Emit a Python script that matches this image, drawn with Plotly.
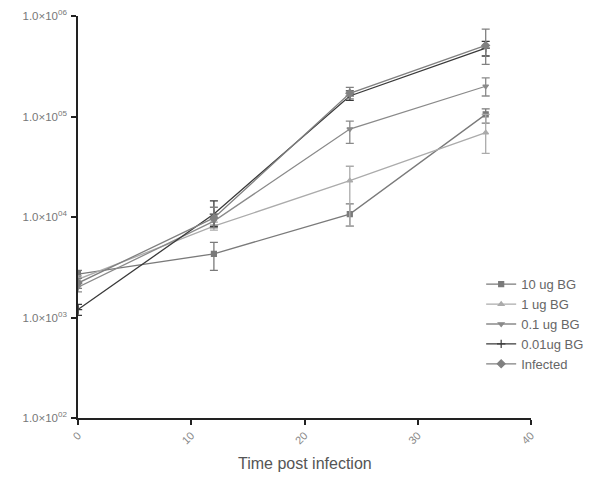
import plotly.graph_objects as go

time = [0, 12, 24, 36]
names = ["10 ug BG", "1 ug BG", "0.1 ug BG", "0.01ug BG", "Infected"]

val_10 = [2700, 4300, 10700, 105000]
hi_10 = [2950, 5600, 13500, 119000]
lo_10 = [2450, 2950, 8100, 86000]

val_1 = [2400, 8100, 23000, 69000]
hi_1 = [2600, 8900, 32000, 105000]
lo_1 = [2200, 7400, 8100, 43000]

val_01 = [2000, 9100, 75000, 200000]
hi_01 = [2200, 10000, 90000, 242000]
lo_01 = [1800, 8300, 54000, 160000]

val_001 = [1200, 10700, 160000, 480000]
hi_001 = [1350, 14500, 180000, 560000]
lo_001 = [1050, 8000, 145000, 400000]

val_inf = [2200, 9800, 170000, 510000]
hi_inf = [2450, 12500, 195000, 740000]
lo_inf = [1950, 7800, 150000, 330000]

series = [val_10, val_1, val_01, val_001, val_inf]
his = [hi_10, hi_1, hi_01, hi_001, hi_inf]
los = [lo_10, lo_1, lo_01, lo_001, lo_inf]
colors = ["#7a7a7a", "#ababab", "#8a8a8a", "#3a3a3a", "#808080"]
symbols = ["square", "triangle-up", "triangle-down", "cross-thin", "diamond"]
sizes = [5, 5, 5, 6, 6]

ytick_vals = [1e2, 1e3, 1e4, 1e5, 1e6]
ytick_text = ["1.0×10<sup>02</sup>", "1.0×10<sup>03</sup>", "1.0×10<sup>04</sup>",
              "1.0×10<sup>05</sup>", "1.0×10<sup>06</sup>"]
xtick_vals = [0, 10, 20, 30, 40]

fig = go.Figure()
for name, v, hi, lo, c, s, sz in zip(names, series, his, los, colors, symbols, sizes):
    fig.add_trace(go.Scatter(
        x=time, y=v, name=name, mode="lines+markers",
        line=dict(color=c, width=1.3),
        marker=dict(symbol=s, size=sz, color=c, line=dict(color=c, width=1.2)),
        error_y=dict(type="data", symmetric=False,
                     array=[h - y for h, y in zip(hi, v)],
                     arrayminus=[y - l for l, y in zip(lo, v)],
                     color=c, thickness=1.3, width=4),
    ))

fig.add_annotation(text="Time post infection", x=0.5, y=0, xref="paper", yref="paper",
                   xanchor="center", yanchor="middle", yshift=-45, showarrow=False,
                   font=dict(size=16, color="#555555"))

fig.update_layout(
    width=598, height=479,
    margin=dict(l=70, r=75, t=8, b=69),
    paper_bgcolor="white", plot_bgcolor="white",
    font=dict(family="Liberation Sans, Arial, sans-serif", color="#666666", size=10),
    showlegend=True,
    legend=dict(x=0.89, y=0.37, xanchor="left", yanchor="top",
                bgcolor="rgba(255,255,255,0)", font=dict(size=13, color="#666666"),
                tracegroupgap=0, itemwidth=30),
    xaxis=dict(range=[0, 40], tickvals=xtick_vals, ticktext=[str(t) for t in xtick_vals],
               tickangle=-45, showgrid=False, zeroline=False, showline=True, automargin=False,
               ticklabeloverflow="allow",
               linecolor="#222222", linewidth=1.5, ticks="outside", ticklen=5,
               tickcolor="#222222", tickwidth=1.5, tickfont=dict(size=11, color="#888888")),
    yaxis=dict(type="log", range=[2, 6], tickvals=ytick_vals, ticktext=ytick_text,
               showgrid=False, zeroline=False, showline=True, automargin=False,
               ticklabeloverflow="allow", ticklabelstandoff=2,
               linecolor="#222222", linewidth=1.5, ticks="outside", ticklen=5,
               tickcolor="#222222", tickwidth=1.5, tickfont=dict(size=11.5, color="#777777")),
)

fig.write_html("out.html")
